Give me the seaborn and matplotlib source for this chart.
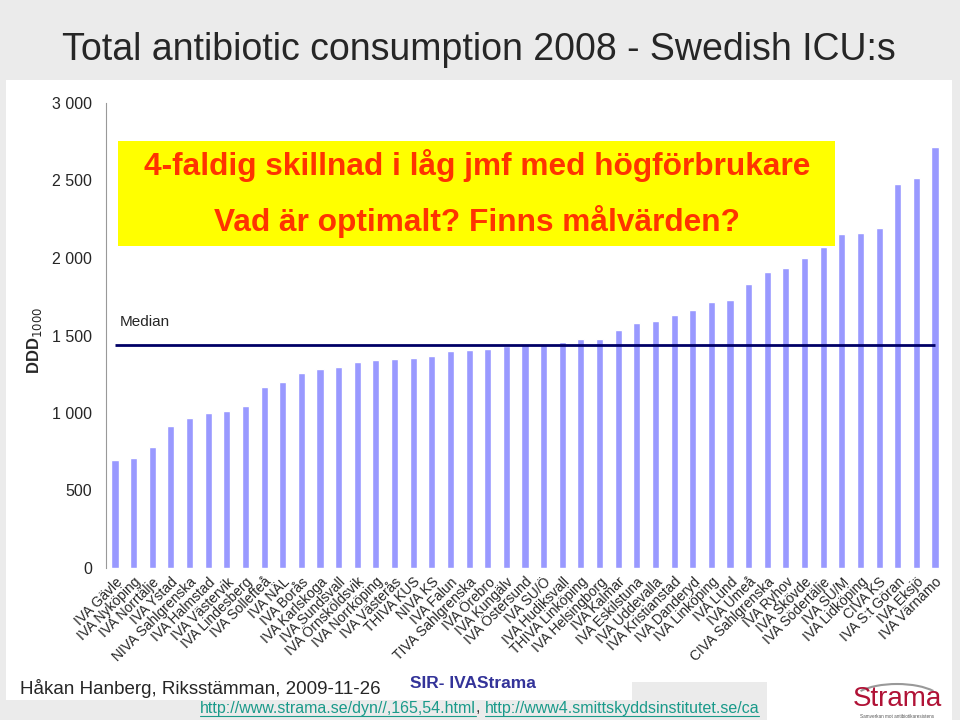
import numpy as np
import matplotlib
matplotlib.use("Agg")
import matplotlib.pyplot as plt
from matplotlib.patches import Rectangle, Arc
from matplotlib.ticker import FuncFormatter
import seaborn as sns

# --- Data ---
units = [
    "IVA Gävle", "IVA Nyköping", "IVA Norrtälje", "IVA Ystad", "NIVA Sahlgrenska",
    "IVA Halmstad", "IVA Västervik", "IVA Lindesberg", "IVA Sollefteå", "IVA NÄL",
    "IVA Borås", "IVA Karlskoga", "IVA Sundsvall", "IVA Örnsköldsvik", "IVA Norrköping",
    "IVA Västerås", "THIVA KUS", "NIVA KS", "IVA Falun", "TIVA Sahlgrenska",
    "IVA Örebro", "IVA Kungälv", "IVA Östersund", "IVA SU/Ö", "IVA Hudiksvall",
    "THIVA Linköping", "IVA Helsingborg", "IVA Kalmar", "IVA Eskilstuna", "IVA Uddevalla",
    "IVA Kristianstad", "IVA Danderyd", "IVA Linköping", "IVA Lund", "IVA Umeå",
    "CIVA Sahlgrenska", "IVA Ryhov", "IVA Skövde", "IVA Södertälje", "IVA SU/M",
    "IVA Lidköping", "CIVA KS", "IVA S:t Göran", "IVA Eksjö", "IVA Värnamo",
]
ddd = [
    700, 710, 780, 915, 968,
    1000, 1013, 1045, 1168, 1200,
    1258, 1284, 1297, 1329, 1342,
    1348, 1358, 1370, 1398, 1405,
    1412, 1435, 1440, 1440, 1456,
    1480, 1480, 1533, 1581, 1594,
    1632, 1665, 1718, 1729, 1830,
    1910, 1935, 2002, 2073, 2153,
    2159, 2194, 2477, 2514, 2714,
]
median_ddd = np.median(ddd)

title = "Total antibiotic consumption 2008 - Swedish ICU:s"
box_line1 = "4-faldig skillnad i låg jmf med högförbrukare"
box_line2 = "Vad är optimalt? Finns målvärden?"
footer = "Håkan Hanberg, Riksstämman, 2009-11-26"
url1 = "http://www.strama.se/dyn//,165,54.html"
url2 = "http://www4.smittskyddsinstitutet.se/ca"

sns.set_style("white")
plt.rcParams["font.family"] = ["Liberation Sans", "DejaVu Sans"]

W, H = 960, 720
fig = plt.figure(figsize=(9.6, 7.2), dpi=100, facecolor="#ebebeb")


def px_rect(x0, y0, x1, y1, color, z=0):
    # rectangle given in pixel coords (y from top)
    fig.patches.append(Rectangle((x0 / W, 1 - y1 / H), (x1 - x0) / W, (y1 - y0) / H,
                                 transform=fig.transFigure, facecolor=color,
                                 edgecolor="none", zorder=z))


# slide background pieces
px_rect(6, 80, 952, 682, "white", z=0)
px_rect(6, 682, 632, 700, "white", z=0)
px_rect(767, 682, 952, 720, "white", z=0)

ax = fig.add_axes([105.7 / W, 1 - 568 / H, (944.3 - 105.7) / W, (568 - 103) / H])
ax.set_facecolor("none")
ax.set_zorder(2)

sns.barplot(x=units, y=ddd, color="#9999ff", width=0.38, saturation=1, ax=ax, zorder=2)
ax.hlines(median_ddd, 0, len(units) - 1, color="#000066", lw=2, zorder=3)
ax.text(0.25, 1590, "Median", fontsize=11, va="center", ha="left")

ax.set_ylim(0, 3000)
ax.set_xlim(-0.5, len(units) - 0.5)
ax.set_yticks(range(0, 3001, 500))
ax.yaxis.set_major_formatter(FuncFormatter(lambda v, p: f"{int(v):,}".replace(",", " ")))
ax.tick_params(axis="y", labelsize=11.5, direction="inout", length=8, color="#999999", pad=6)
ax.tick_params(axis="x", labelsize=10, direction="in", length=3, color="#999999", pad=5)
ax.set_xticks(range(len(units)))
ax.set_xticklabels(units, rotation=45, ha="right", rotation_mode="anchor")
for s in ["top", "right"]:
    ax.spines[s].set_visible(False)
ax.spines["left"].set_color("#999999")
ax.spines["bottom"].set_visible(False)
ax.set_xlabel("")
ax.set_ylabel("DDD$_{1000}$", fontsize=12, fontweight="bold")
ax.yaxis.set_label_coords(-0.074, 0.49)

# title
fig.text(62 / W, 1 - 50 / H, title, fontsize=27, va="center", ha="left")

# yellow message box
px_rect(118, 141, 835, 246, "#ffff00", z=5)
fig.text(477 / W, 1 - 166 / H, box_line1, fontsize=22.8, fontweight="bold",
         color="#ff3300", ha="center", va="center", zorder=6)
fig.text(477 / W, 1 - 222 / H, box_line2, fontsize=22.8, fontweight="bold",
         color="#ff3300", ha="center", va="center", zorder=6)

# footer
fig.text(20 / W, 1 - 688 / H, footer, fontsize=13.5, ha="left", va="center", zorder=6)
fig.text(410 / W, 1 - 684 / H, "SIR- IVAStrama", fontsize=12.5, fontweight="bold",
         color="#333399", ha="left", va="center", zorder=6)

# links: place pieces one after another, measured with the renderer
teal = "#1a9a8a"
renderer = fig.canvas.get_renderer()
x = 200
for piece, col, link in [(url1, teal, True), (", ", "#333333", False), (url2, teal, True)]:
    t = fig.text(x / W, 1 - 708 / H, piece, fontsize=11.5, color=col, ha="left",
                 va="center", zorder=6)
    w = t.get_window_extent(renderer).width
    if link:
        fig.add_artist(plt.Line2D([x / W, (x + w) / W], [1 - 716 / H, 1 - 716 / H],
                                  transform=fig.transFigure, color=teal, lw=0.8, zorder=6))
    x += w

# Strama logo
fig.text(897 / W, 1 - 699 / H, "Strama", fontsize=20, color="#b01236", ha="center",
         va="center", zorder=6)
fig.text(897 / W, 1 - 717 / H, "Samverkan mot antibiotikaresistens", fontsize=3.3,
         color="#555555", ha="center", va="center", zorder=6)
fig.add_artist(Arc((897 / W, 1 - 701 / H), 90 / W, 34 / H, theta1=20, theta2=160,
                   transform=fig.transFigure, color="#999999", lw=1.5, zorder=6))

fig.savefig("out.png", dpi=100, facecolor=fig.get_facecolor())
